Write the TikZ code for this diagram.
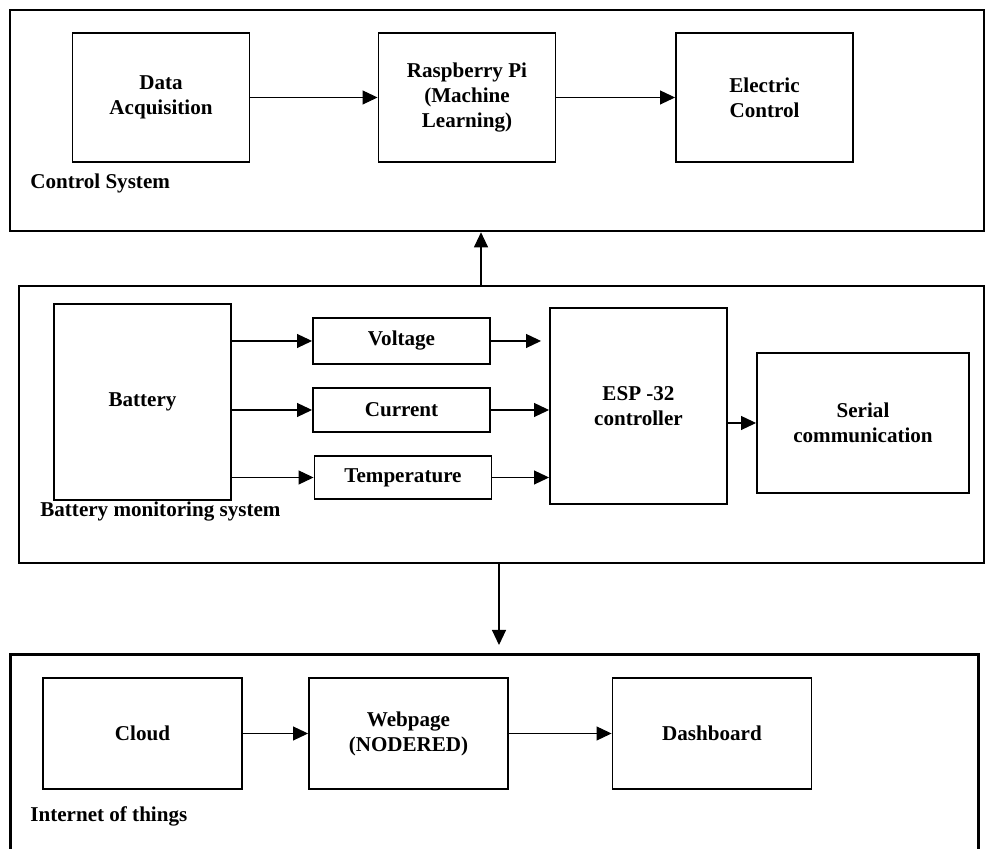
\documentclass[tikz,border=0pt]{standalone}
\usepackage{fontspec}
\setmainfont{Liberation Serif}
\usetikzlibrary{arrows.meta,positioning,calc}
\definecolor{ink}{HTML}{000000}
\tikzset{
  % ---- panels ----------------------------------------------------
  panel/.style      = {draw=ink, line width=1.5pt, inner sep=0pt},
  paneltag/.style   = {font=\fontsize{12}{14.2}\selectfont\bfseries,
                       text=ink, anchor=west, inner sep=0pt},
  % ---- blocks ----------------------------------------------------
  blk/.style        = {draw=ink, line width=1.1pt, inner sep=0pt,
                       align=center, minimum width=3.54cm,
                       font=\fontsize{12}{14.2}\selectfont\bfseries},
  % ---- connectors ------------------------------------------------
  arr/.style        = {draw=ink, line width=.6pt,
                       -{Triangle[length=3mm, width=2.8mm]}},
}

\begin{document}
\begin{tikzpicture}
  \useasboundingbox (0,0) rectangle (19.72,16.98);
  \clip (0,0) rectangle (19.72,16.98);
  % ---- control system --------------------------------------------
  \node[panel, minimum width=19.48cm, minimum height=4.42cm] (ctrl) at (9.94,14.57) {};
  \node[blk, minimum height=2.58cm] (daq) at (3.22,15.03) {Data\\Acquisition};
  \node[blk, minimum height=2.58cm] (rpi) at (9.34,15.03) {Raspberry Pi\\(Machine\\Learning)};
  \node[blk, minimum height=2.58cm] (elc) at (15.29,15.03) {Electric\\Control};
  \node[paneltag] (ctrltag) at (0.60,13.32) {Control System};
  \draw[arr] (daq) -- (rpi);
  \draw[arr] (rpi) -- (elc);
  % ---- battery monitoring ----------------------------------------
  \node[panel, minimum width=19.30cm, minimum height=5.54cm] (mon) at (10.03,8.49) {};
  \node[blk, minimum height=3.92cm] (bat) at (2.85,8.94) {Battery};
  \node[blk, minimum height=0.92cm] (volt) at (8.03,10.16) {Voltage};
  \node[blk, minimum height=0.88cm] (curr) at (8.03,8.78) {Current};
  \node[blk, minimum height=0.86cm] (temp) at (8.06,7.43) {Temperature};
  \node[blk, minimum height=3.92cm] (esp) at (12.77,8.86) {ESP -32\\controller};
  \node[blk, minimum width=4.24cm, minimum height=2.80cm] (ser) at (17.26,8.52) {Serial\\communication};
  \node[paneltag] (montag) at (0.80,6.74) {Battery monitoring system};
  \draw[arr] (bat.east |- volt.west) -- (volt.west);
  \draw[arr] (bat.east |- curr.west) -- (curr.west);
  \draw[arr] (bat.east |- temp.west) -- (temp.west);
  \draw[arr, shorten >=1.6mm] (volt.east) -- (volt.east -| esp.west);
  \draw[arr] (curr.east) -- (curr.east -| esp.west);
  \draw[arr] (temp.east) -- (temp.east -| esp.west);
  \draw[arr] (esp.east |- ser.west) -- (ser.west);
  % ---- internet of things ----------------------------------------
  \node[panel, anchor=north west, minimum width=19.36cm, minimum height=5cm] (iot) at (0.18,3.92) {};
  \node[blk, minimum width=3.98cm, minimum height=2.22cm] (cloud) at (2.85,2.31) {Cloud};
  \node[blk, minimum width=3.98cm, minimum height=2.22cm] (web) at (8.17,2.31) {Webpage\\(NODERED)};
  \node[blk, minimum width=3.98cm, minimum height=2.22cm] (dash) at (14.24,2.31) {Dashboard};
  \node[paneltag] (iottag) at (0.60,0.66) {Internet of things};
  \draw[arr] (cloud) -- (web);
  \draw[arr] (web) -- (dash);
  % ---- links between panels --------------------------------------
  \coordinate (upx) at (9.62,0);
  \coordinate (dnx) at (9.98,0);
  \draw[arr] (mon.north -| upx) -- (ctrl.south -| upx);
  \draw[arr, shorten >=1.6mm] (mon.south -| dnx) -- (iot.north -| dnx);
\end{tikzpicture}
\end{document}
